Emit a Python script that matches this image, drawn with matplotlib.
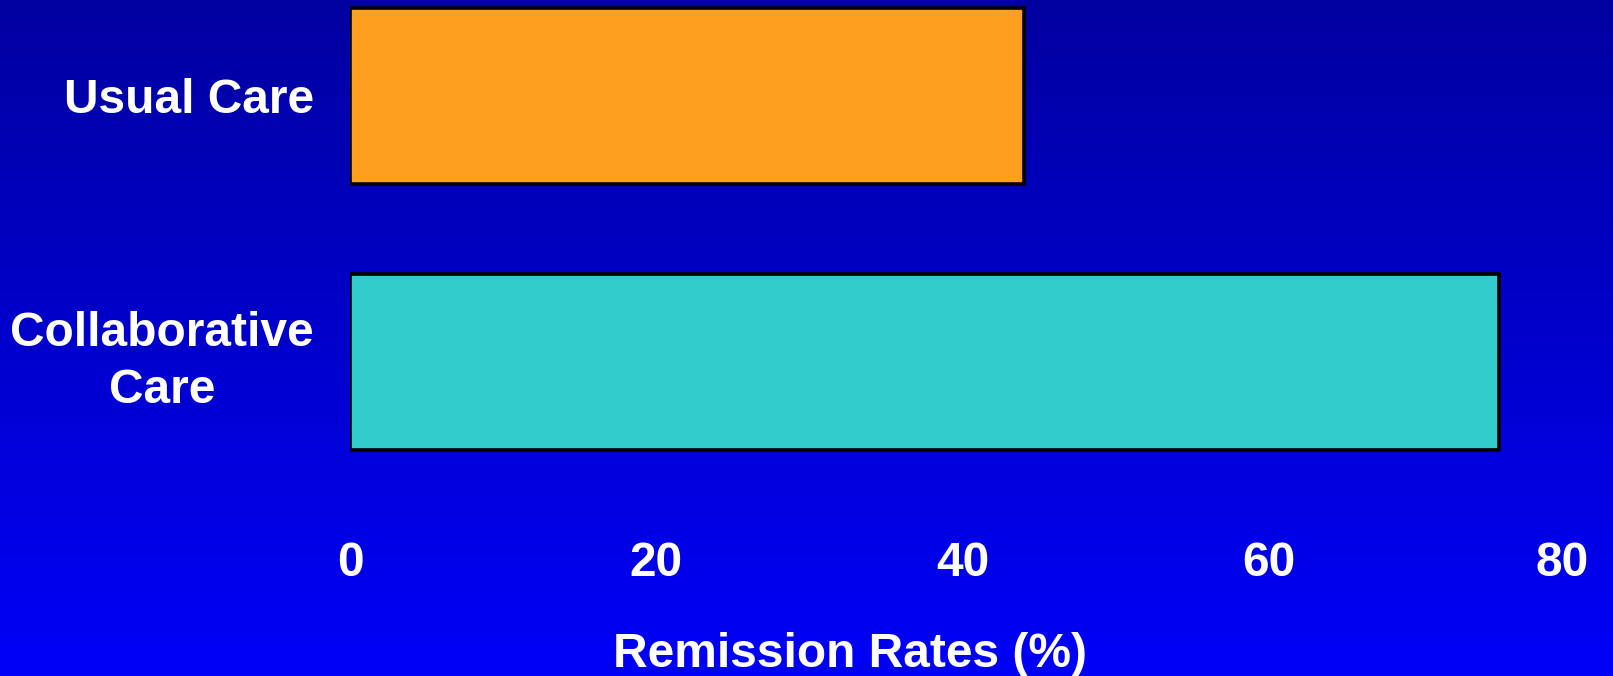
import numpy as np
import matplotlib
matplotlib.use("Agg")
import matplotlib.pyplot as plt
from matplotlib.transforms import ScaledTranslation

# data
groups = ["Collaborative\nCare", "Usual Care"]
remission = [75, 44]
bar_colors = ["#33CCCC", "#FF9F1F"]
xticks = [0, 20, 40, 60, 80]

plt.rcParams['font.family'] = ['Liberation Sans', 'DejaVu Sans']

fig = plt.figure(figsize=(16.13, 6.76), dpi=100)

# background gradient, dark blue on top to bright blue at the bottom
bg = fig.add_axes([0, 0, 1, 1], zorder=-1)
grad = np.linspace(0, 1, 256).reshape(-1, 1)
cmap = matplotlib.colors.LinearSegmentedColormap.from_list("bg", ["#0000A0", "#0000F8"])
bg.imshow(grad, aspect="auto", cmap=cmap, extent=[0, 1, 0, 1], origin="upper")
bg.axis("off")

ax = fig.add_axes([0.217, 0.268, 0.7595, 0.732])
ax.patch.set_visible(False)
ax.barh(range(len(groups)), remission, height=0.66, color=bar_colors,
        edgecolor="black", linewidth=2.6)
ax.set_xlim(0, 80)
ax.set_ylim(-0.5, 1.36)
ax.set_xticks(xticks)
ax.set_yticks(range(len(groups)))
ax.set_yticklabels(groups, multialignment="center", linespacing=1.35)
for s in ax.spines.values():
    s.set_visible(False)
ax.tick_params(axis="both", length=0, colors="white", labelsize=34.5)
ax.tick_params(axis="x", pad=33)
ax.tick_params(axis="y", pad=26)
for lab in ax.get_xticklabels() + ax.get_yticklabels():
    lab.set_fontweight("bold")
ax.get_yticklabels()[0].set_va("center")
# last tick label sits a bit left in the original (kept inside the slide)
last = ax.get_xticklabels()[-1]
last.set_transform(last.get_transform() + ScaledTranslation(-9.6 / 72, 0, fig.dpi_scale_trans))

ax.set_xlabel("Remission Rates (%)", fontsize=34.5, fontweight="bold", color="white", va="center")
ax.xaxis.set_label_coords(0.408, -0.323)

fig.savefig("out.png", dpi=100)
